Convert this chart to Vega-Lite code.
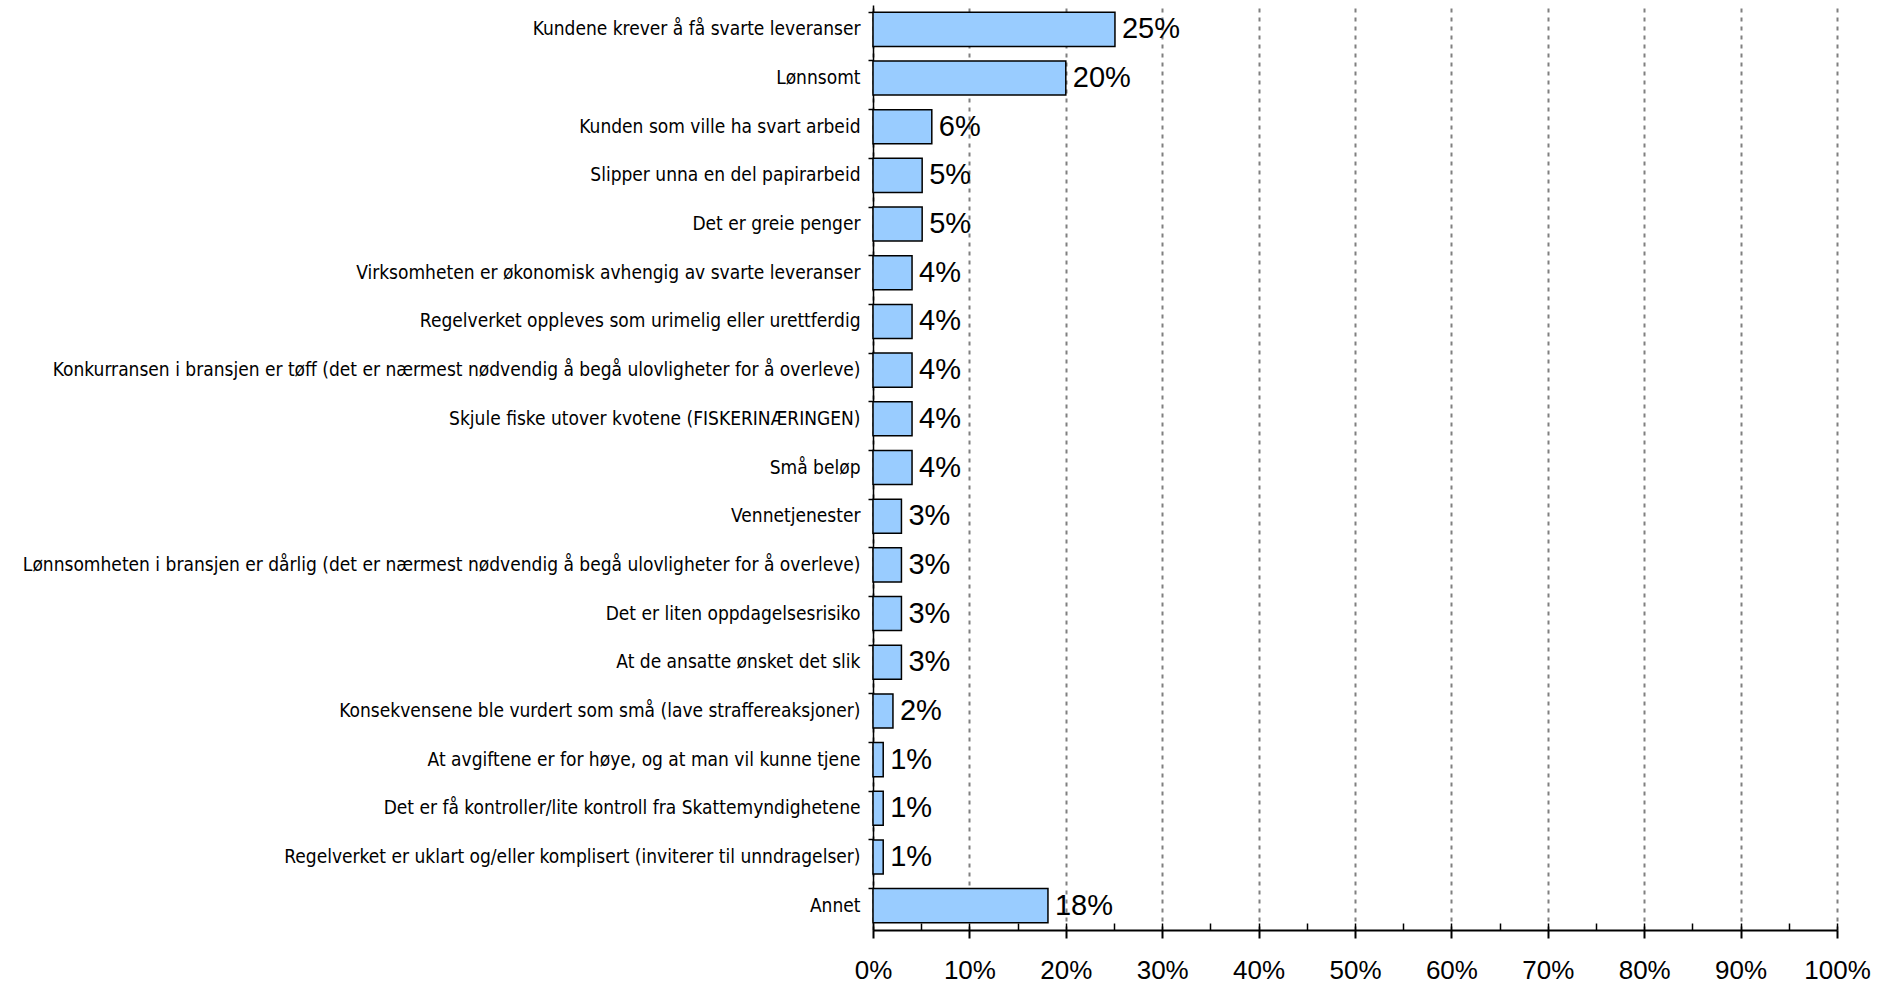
{
  "$schema": "https://vega.github.io/schema/vega-lite/v6.json",
  "autosize": "none",
  "padding": {"left": 873, "top": 5, "right": 55, "bottom": 53},
  "width": 964,
  "height": 925,
  "background": "white",
  "config": {"view": {"stroke": null}},
  "data": {"values": [
    {"reason": "Kundene krever å få svarte leveranser", "share": 0.251},
    {"reason": "Lønnsomt", "share": 0.200},
    {"reason": "Kunden som ville ha svart arbeid", "share": 0.061},
    {"reason": "Slipper unna en del papirarbeid", "share": 0.051},
    {"reason": "Det er greie penger", "share": 0.051},
    {"reason": "Virksomheten er økonomisk avhengig av svarte leveranser", "share": 0.0405},
    {"reason": "Regelverket oppleves som urimelig eller urettferdig", "share": 0.0405},
    {"reason": "Konkurransen i bransjen er tøff (det er nærmest nødvendig å begå ulovligheter for å overleve)", "share": 0.0405},
    {"reason": "Skjule fiske utover kvotene (FISKERINÆRINGEN)", "share": 0.0405},
    {"reason": "Små beløp", "share": 0.0405},
    {"reason": "Vennetjenester", "share": 0.0295},
    {"reason": "Lønnsomheten i bransjen er dårlig (det er nærmest nødvendig å begå ulovligheter for å overleve)", "share": 0.0295},
    {"reason": "Det er liten oppdagelsesrisiko", "share": 0.0295},
    {"reason": "At de ansatte ønsket det slik", "share": 0.0295},
    {"reason": "Konsekvensene ble vurdert som små (lave straffereaksjoner)", "share": 0.0207},
    {"reason": "At avgiftene er for høye, og at man vil kunne tjene", "share": 0.0106},
    {"reason": "Det er få kontroller/lite kontroll fra Skattemyndighetene", "share": 0.0106},
    {"reason": "Regelverket er uklart og/eller komplisert (inviterer til unndragelser)", "share": 0.0106},
    {"reason": "Annet", "share": 0.1815}
  ]},
  "resolve": {"axis": {"x": "independent"}},
  "layer": [
    {
      "mark": {"type": "bar", "fill": "#99CCFF", "stroke": "#000000", "strokeWidth": 1.5},
      "encoding": {
        "y": {
          "field": "reason", "type": "nominal", "sort": null,
          "scale": {"paddingInner": 0.3, "paddingOuter": 0.15},
          "axis": {
            "title": null, "bandPosition": 0, "tickSize": 5, "tickColor": "#000000", "tickWidth": 1.5,
            "domainColor": "#000000", "domainWidth": 1.5,
            "labelFont": "DejaVu Sans Condensed, Liberation Sans", "labelFontSize": 19, "labelColor": "#000000",
            "labelPadding": 8, "labelLimit": 900, "grid": false
          }
        },
        "x": {
          "field": "share", "type": "quantitative",
          "scale": {"domain": [0, 1], "nice": false},
          "axis": {
            "orient": "bottom", "title": null,
            "values": [0, 0.1, 0.2, 0.3, 0.4, 0.5, 0.6, 0.7, 0.8, 0.9, 1],
            "format": ".0%", "labelFont": "Liberation Sans", "labelFontSize": 26, "labelColor": "#000000",
            "labelPadding": 19, "labelFlush": false,
            "tickSize": 8, "tickColor": "#000000", "tickWidth": 2,
            "domainColor": "#000000", "domainWidth": 2,
            "grid": true, "gridColor": "#808080", "gridDash": [4, 5], "gridWidth": 2
          }
        }
      }
    },
    {
      "mark": {"type": "text", "align": "left", "baseline": "middle", "dx": 7, "font": "Liberation Sans", "fontSize": 29, "color": "#000000"},
      "encoding": {
        "y": {"field": "reason", "type": "nominal", "sort": null},
        "x": {
          "field": "share", "type": "quantitative",
          "axis": {
            "orient": "bottom", "title": null,
            "values": [0, 0.05, 0.1, 0.15, 0.2, 0.25, 0.3, 0.35, 0.4, 0.45, 0.5, 0.55, 0.6, 0.65, 0.7, 0.75, 0.8, 0.85, 0.9, 0.95, 1],
            "labels": false, "domain": false, "grid": false,
            "tickSize": -7, "tickColor": "#000000", "tickWidth": 1.5
          }
        },
        "text": {"field": "share", "type": "quantitative", "format": ".0%"}
      }
    }
  ]
}
